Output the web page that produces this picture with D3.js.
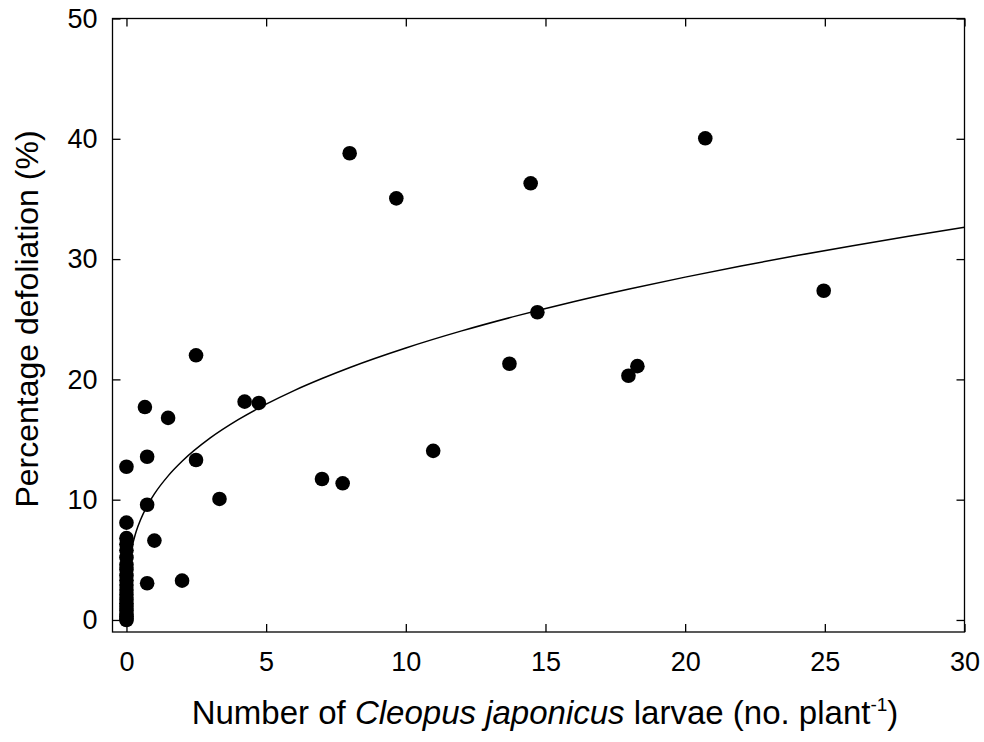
<!DOCTYPE html>
<html>
<head>
<meta charset="utf-8">
<script src="https://cdn.jsdelivr.net/npm/d3@7"></script>
<style>
  body { margin: 0; background: #fff; }
  svg { font-family: Arial, "Liberation Sans", sans-serif; }
</style>
</head>
<body>
<svg width="984" height="742"></svg>
<script>
// scattered observations (larvae per plant, % defoliation)
var larvae = [0, 0, 0.66, 0.74, 0.74, 0.74, 1.0, 1.49, 1.99, 2.49, 2.49, 3.33, 4.23, 4.74,
              7.0, 7.74, 7.99, 9.66, 10.98, 13.71, 14.47, 14.71, 17.97, 18.29, 20.72, 24.96];
var defoliation = [12.74, 8.09, 17.7, 13.57, 9.58, 3.05, 6.6, 16.8, 3.27, 22.0, 13.3, 10.06, 18.15, 18.04,
                   11.72, 11.36, 38.8, 35.05, 14.06, 21.3, 36.3, 25.58, 20.3, 21.1, 40.04, 27.37];
// plants with no larvae, stacked on x = 0
var zeroLarvaeDefol = [6.8, 6.3, 5.8, 5.2, 4.6, 4.2, 3.7, 3.3, 2.9, 2.5, 2.1, 1.7, 1.4, 1.1, 0.8, 0.5, 0.3, 0.1, 0];
// fitted curve
var fitX = [0.2, 0.35, 0.5, 0.75, 1, 1.5, 2, 3, 4, 5, 6, 7, 8, 10, 12, 14, 16, 18, 20, 22, 24, 26, 28, 30];
var fitY = [6.12, 7.38, 8.31, 9.52, 10.48, 12.0, 13.21, 15.13, 16.65, 17.94, 19.07, 20.07, 20.99, 22.61,
            24.03, 25.3, 26.46, 27.52, 28.5, 29.43, 30.29, 31.11, 31.89, 32.64];
var xTicks = [0, 5, 10, 15, 20, 25, 30];
var yTicks = [0, 10, 20, 30, 40, 50];

var svg = d3.select("svg"),
    margin = {top: 18.5, right: 19.5, bottom: 110, left: 112.5},
    width = +svg.attr("width") - margin.left - margin.right,
    height = +svg.attr("height") - margin.top - margin.bottom,
    g = svg.append("g").attr("transform", "translate(" + margin.left + "," + margin.top + ")");

var x = d3.scaleLinear().domain([-0.5, 30]).range([0, width]),
    y = d3.scaleLinear().domain([-1, 50]).range([height, 0]);

var points = larvae.map(function(d, i) { return {x: d, y: defoliation[i]}; })
  .concat(zeroLarvaeDefol.map(function(d) { return {x: 0, y: d}; }));

// axes with inward ticks
g.append("g")
    .attr("transform", "translate(0," + height + ")")
    .call(d3.axisBottom(x).tickValues(xTicks).tickSizeInner(-8).tickSizeOuter(0).tickPadding(20));
g.append("g")
    .call(d3.axisLeft(y).tickValues(yTicks).tickSizeInner(-8).tickSizeOuter(0).tickPadding(15));
g.append("g")
    .call(d3.axisTop(x).tickValues(xTicks).tickSizeInner(-8).tickSizeOuter(0).tickFormat(""));
g.append("g")
    .attr("transform", "translate(" + width + ",0)")
    .call(d3.axisRight(y).tickValues(yTicks).tickSizeInner(-8).tickSizeOuter(0).tickFormat(""));

g.selectAll(".domain").remove();
g.selectAll(".tick line").attr("stroke", "#000").attr("stroke-width", 1.3);
g.selectAll(".tick text").attr("fill", "#000").style("font-size", "27px")
    .style("font-family", "Arial, 'Liberation Sans', sans-serif");

g.append("rect")
    .attr("width", width)
    .attr("height", height)
    .attr("fill", "none")
    .attr("stroke", "#000")
    .attr("stroke-width", 1.3);

// fitted line
var line = d3.line()
    .curve(d3.curveMonotoneX)
    .x(function(d) { return x(d); })
    .y(function(d, i) { return y(fitY[i]); });

g.append("path")
    .datum(fitX)
    .attr("d", line)
    .attr("fill", "none")
    .attr("stroke", "#000")
    .attr("stroke-width", 1.5);

g.selectAll(".dot")
  .data(points)
  .enter().append("circle")
    .attr("class", "dot")
    .attr("cx", function(d) { return x(d.x); })
    .attr("cy", function(d) { return y(d.y); })
    .attr("r", 7.3)
    .attr("fill", "#000");

// axis titles
var xt = svg.append("text")
    .attr("x", 545)
    .attr("y", 724)
    .attr("text-anchor", "middle")
    .style("font-size", "33px");
xt.append("tspan").text("Number of ");
xt.append("tspan").style("font-style", "italic").text("Cleopus japonicus");
xt.append("tspan").text(" larvae (no. plant");
xt.append("tspan").attr("dy", -13).style("font-size", "19px").text("-1");
xt.append("tspan").attr("dy", 13).text(")");

svg.append("text")
    .attr("transform", "translate(38,319) rotate(-90)")
    .attr("text-anchor", "middle")
    .style("font-size", "32px")
    .text("Percentage defoliation (%)");
</script>
</body>
</html>
